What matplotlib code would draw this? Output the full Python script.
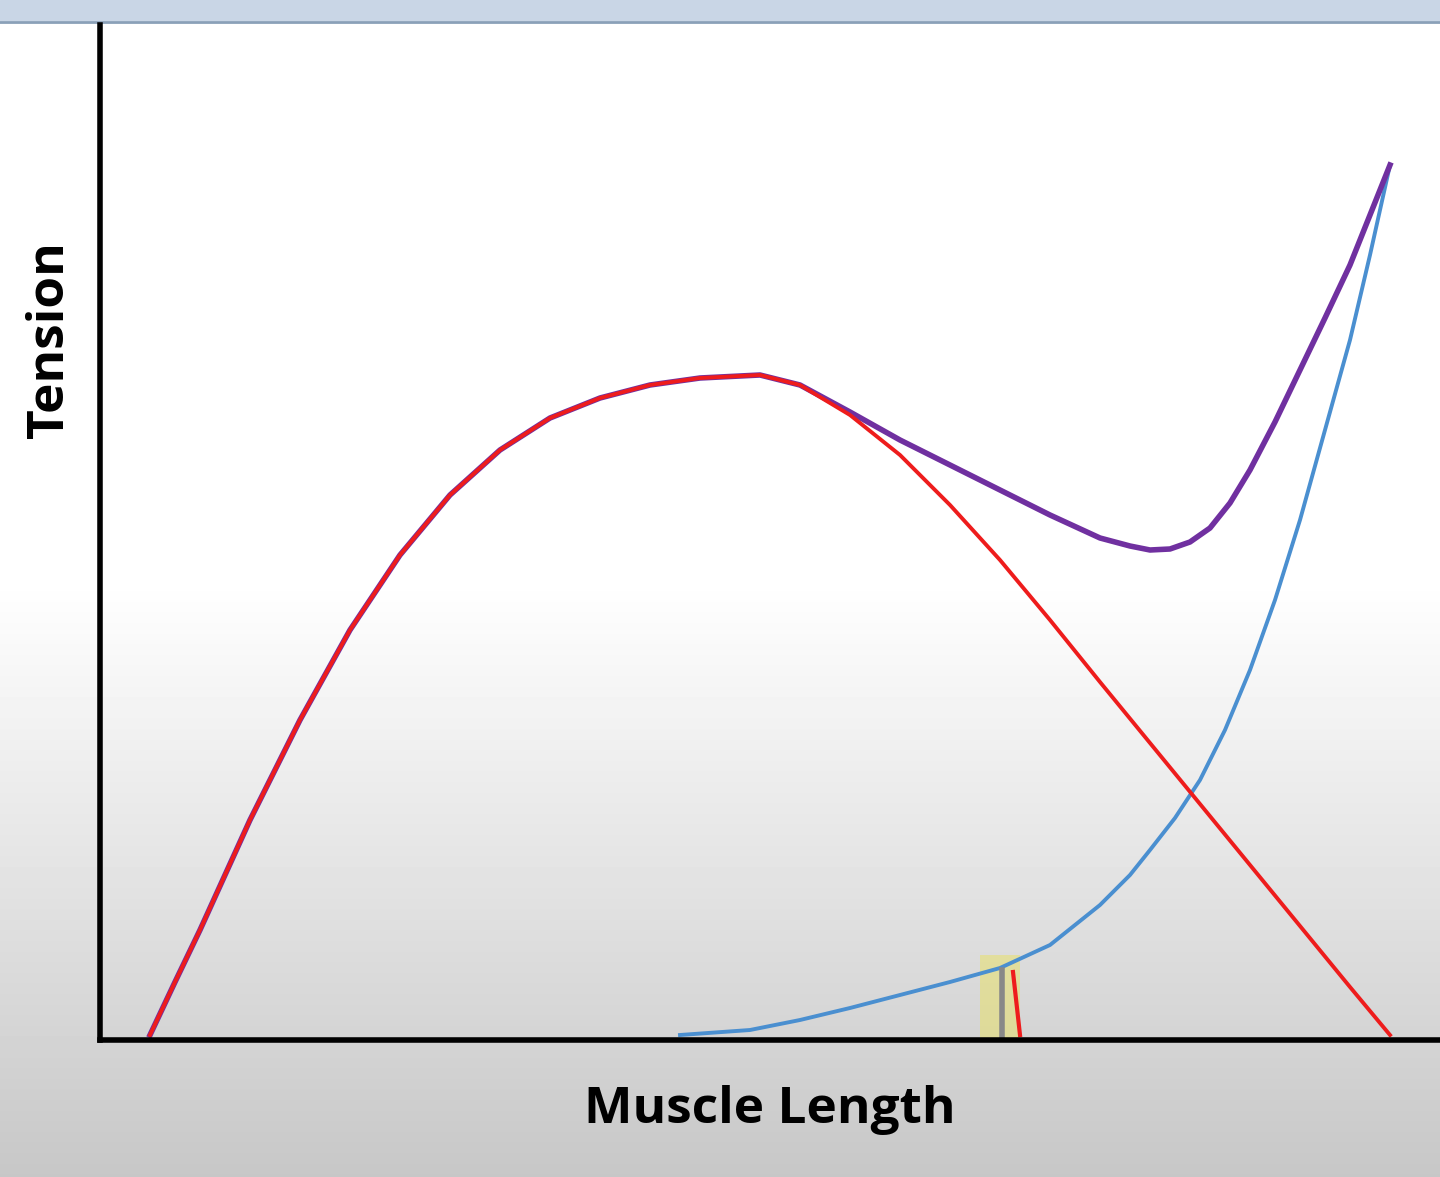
import numpy as np
import matplotlib.pyplot as plt
from matplotlib.patches import Rectangle

# curve points (x = length units, y = tension units)
active_x = [50, 75, 100, 150, 200, 250, 300, 350, 400, 450, 500, 550, 600, 660, 700, 750, 800,
            850, 900, 950, 1000, 1050, 1100, 1150, 1200, 1250, 1290]
active_y = [5, 58, 110, 220, 320, 410, 485, 545, 590, 622, 642, 655, 662, 665, 655, 625, 585,
            535, 480, 420, 358, 297, 236, 175, 114, 53, 5]
passive_x = [580, 650, 700, 750, 800, 850, 900, 950, 1000, 1030, 1050, 1075, 1100, 1125,
             1150, 1175, 1200, 1225, 1250, 1270, 1290]
passive_y = [5, 10, 20, 32, 45, 58, 72, 95, 135, 165, 190, 222, 260, 310,
             370, 440, 520, 610, 700, 785, 875]
total_x = [50, 75, 100, 150, 200, 250, 300, 350, 400, 450, 500, 550, 600, 660, 700, 750,
           800, 850, 900, 950, 1000, 1030, 1050, 1070, 1090, 1110, 1130, 1150, 1175,
           1200, 1225, 1250, 1270, 1290]
total_y = [5, 58, 110, 220, 320, 410, 485, 545, 590, 622, 642, 655, 662, 665, 655, 628,
           600, 575, 550, 525, 502, 494, 490, 491, 498, 512, 537, 570, 618,
           670, 722, 775, 825, 875]

fig = plt.figure(figsize=(14.4, 11.77), dpi=100)

# slide background gradient
bg = fig.add_axes([0, 0, 1, 1])
grad = np.ones((1177, 1))
rows = np.arange(1177)
grad[:, 0] = np.where(rows < 580, 1.0, 1.0 - (rows - 580) / (1177 - 580) * 0.22)
bg.imshow(grad, cmap='gray', vmin=0, vmax=1, aspect='auto', extent=[0, 1440, 1177, 0])
bg.add_patch(Rectangle((0, 0), 1440, 20, color='#c9d6e6'))
bg.plot([0, 1440], [22, 22], color='#8aa0b8', lw=2)
bg.set_xlim(0, 1440)
bg.set_ylim(1177, 0)
bg.axis('off')
bg.text(50, 340, 'Tension', rotation=90, ha='center', va='center',
        fontsize=37, fontweight='bold', family='Open Sans')
bg.text(770, 1110, 'Muscle Length', ha='center', va='center',
        fontsize=37, fontweight='bold', family='Open Sans')

ax = fig.add_axes([100 / 1440, 137 / 1177, 1340 / 1440, 1015 / 1177])
ax.patch.set_alpha(0)
ax.plot(passive_x, passive_y, color='#4a8fd0', lw=2.8)
ax.plot(total_x, total_y, color='#7030a0', lw=4, solid_joinstyle='round')
ax.plot(active_x, active_y, color='#ee1c1c', lw=2.8, solid_joinstyle='round')

# small highlighted marker
ax.add_patch(Rectangle((880, 0), 40, 85, color='#e8e060', alpha=0.5, lw=0))
ax.plot([902, 902], [3, 70], color='#888888', lw=4)
ax.plot([913, 920], [68, 5], color='#ee1c1c', lw=3)

ax.set_xlim(0, 1340)
ax.set_ylim(0, 1015)
ax.set_xticks([])
ax.set_yticks([])
for s in ['top', 'right']:
    ax.spines[s].set_visible(False)
for s in ['left', 'bottom']:
    ax.spines[s].set_linewidth(4)
    ax.spines[s].set_color('black')

fig.savefig('out.png', dpi=100)
